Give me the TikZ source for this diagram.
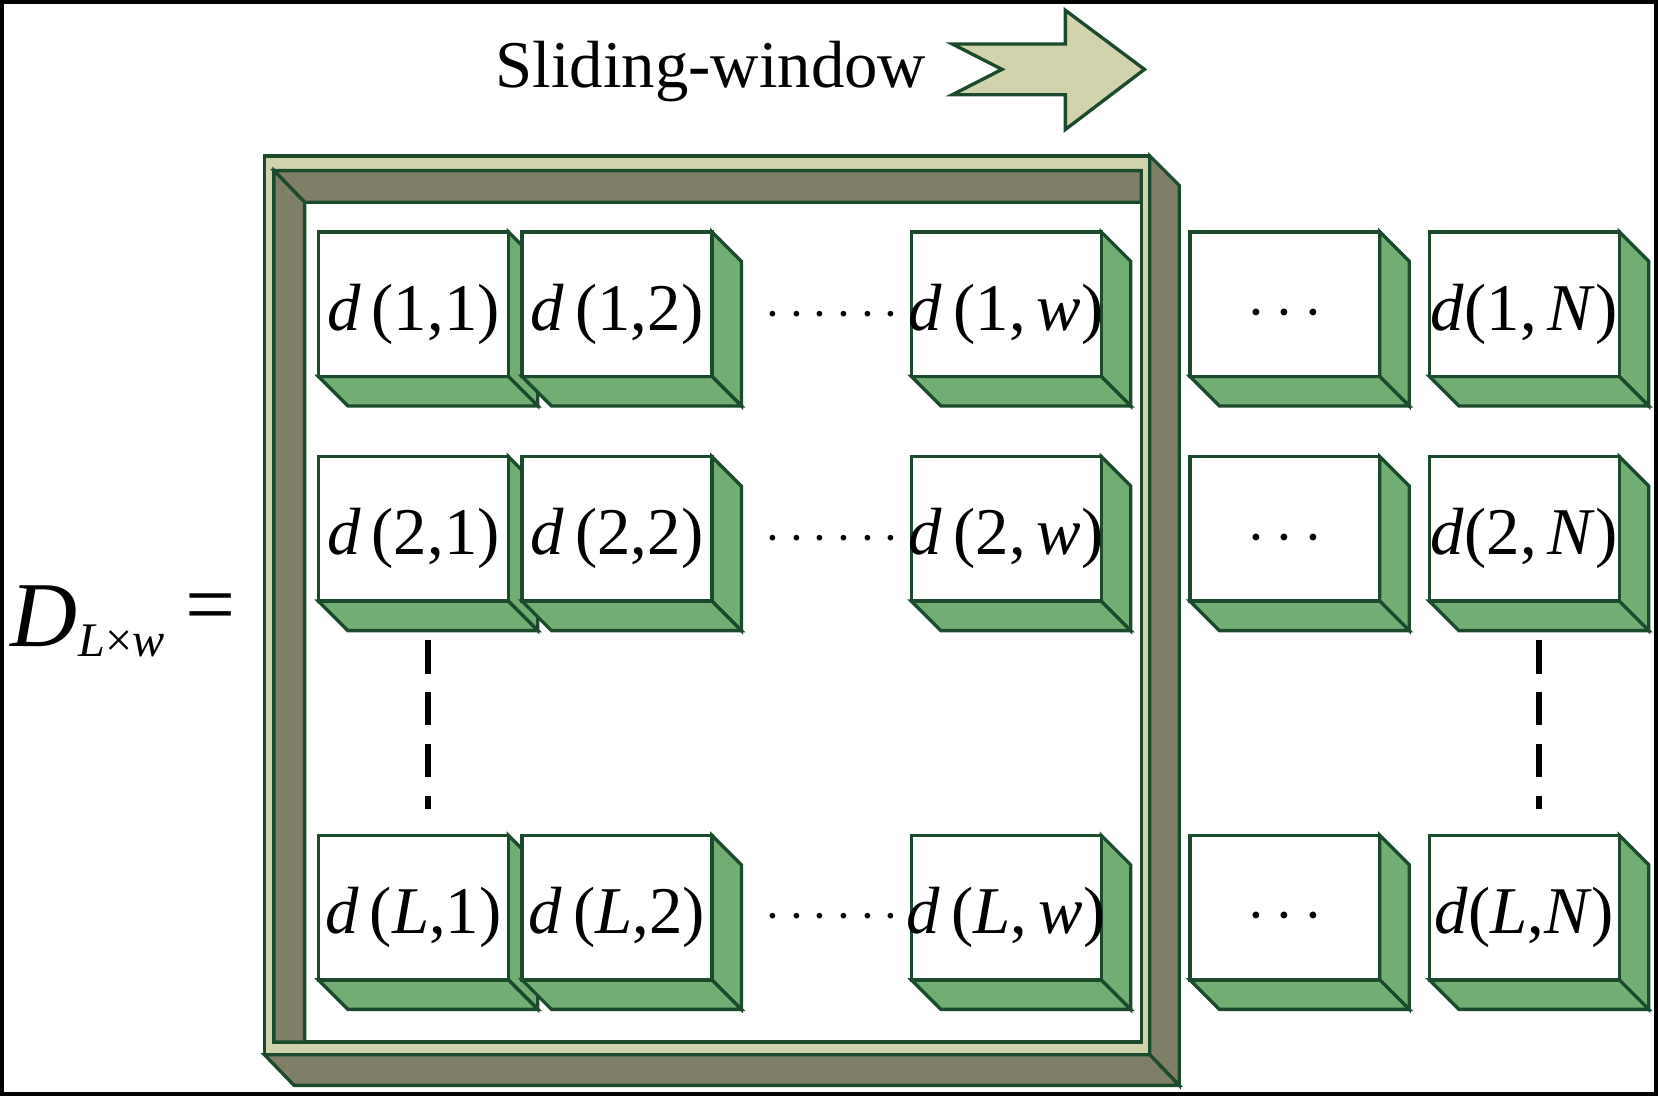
\documentclass[tikz,border=0pt]{standalone}
\usepackage{fontspec}
\setmainfont{Liberation Serif}
\begin{document}
\begin{tikzpicture}[x=0.01cm,y=-0.01cm]
\definecolor{edge}{HTML}{1C4A2C}
\definecolor{cgreen}{HTML}{72AD74}
\definecolor{dark}{HTML}{7F7F67}
\definecolor{light}{HTML}{D1D3AC}
\tikzset{ln/.style={draw=edge,line width=0.9pt,line join=miter},
  lbl/.style={font=\fontsize{18}{20}\selectfont,inner sep=0pt},
  dots/.style={font=\fontsize{15}{20}\selectfont,inner sep=0pt}}
\draw[black,line width=1pt] (0,0) rectangle (1568,1035);
\useasboundingbox (0,0) rectangle (1568,1035);
% arrow
\draw[ln,fill=light] (901,40) -- (1008,40) -- (1008,8) -- (1083,64) -- (1008,121) -- (1008,88) -- (901,88) -- (948,64) -- cycle;
\node[font=\fontsize{18}{22}\selectfont,inner sep=0pt] (title) at (672,66) {Sliding-window};
% frame
\draw[ln,fill=dark] (1088,146) -- (1116,174) -- (1116,1027) -- (1088,998) -- cycle;
\draw[ln,fill=dark] (249,998) -- (1088,998) -- (1116,1027) -- (277,1027) -- cycle;
\draw[ln,fill=light] (249,146) rectangle (1088,998);
\draw[ln,fill=white] (258,160) rectangle (1080,986);
\draw[ln,fill=dark] (258,160) -- (1080,160) -- (1080,190) -- (287,190) -- cycle;
\draw[ln,fill=dark] (258,160) -- (287,190) -- (287,986) -- (258,986) -- cycle;
% cubes
\newcommand{\cube}[4]{%
  \draw[ln,fill=cgreen] (#1+180,#2) -- (#1+208,#2+28) -- (#1+208,#2+165) -- (#1+180,#2+137) -- cycle;
  \draw[ln,fill=cgreen] (#1,#2+137) -- (#1+180,#2+137) -- (#1+208,#2+165) -- (#1+28,#2+165) -- cycle;
  \draw[ln,fill=white] (#1,#2) rectangle (#1+180,#2+137);
  \node[lbl] (#3) at (#1+90,#2+78) {#4};}
\cube{300}{218}{c11}{\textit{d}\,(1,1)}
\cube{493}{218}{c12}{\textit{d}\,(1,2)}
\cube{862}{218}{c1w}{\textit{d}\,(1,\,\textit{w})}
\cube{1126}{218}{c1x}{$\cdots$}
\cube{1353}{218}{c1N}{\textit{d}(1,\,\textit{N})}
\cube{300}{431}{c21}{\textit{d}\,(2,1)}
\cube{493}{431}{c22}{\textit{d}\,(2,2)}
\cube{862}{431}{c2w}{\textit{d}\,(2,\,\textit{w})}
\cube{1126}{431}{c2x}{$\cdots$}
\cube{1353}{431}{c2N}{\textit{d}(2,\,\textit{N})}
\cube{300}{790}{cL1}{\textit{d}\,(\textit{L},1)}
\cube{493}{790}{cL2}{\textit{d}\,(\textit{L},2)}
\cube{862}{790}{cLw}{\textit{d}\,(\textit{L},\,\textit{w})}
\cube{1126}{790}{cLx}{$\cdots$}
\cube{1353}{790}{cLN}{\textit{d}(\textit{L},\textit{N})}
% dots
\node[dots] (d1) at (787,297) {$\cdots\cdots$};
\node[dots] (d2) at (787,510) {$\cdots\cdots$};
\node[dots] (d3) at (787,868) {$\cdots\cdots$};
\coordinate (v1a) at (404,605); \coordinate (v1b) at (404,765);
\coordinate (v2a) at (1457,605); \coordinate (v2b) at (1457,765);
\draw[black,line width=1.6pt,dash pattern=on 9pt off 5pt] (v1a) -- (v1b);
\draw[black,line width=1.6pt,dash pattern=on 9pt off 5pt] (v2a) -- (v2b);
\node[inner sep=0pt,anchor=east,font=\fontsize{25}{28}\selectfont] (D) at (72,582) {\textit{D}};
\node[inner sep=0pt,anchor=west,font=\fontsize{13}{16}\selectfont] (Dsub) at (72,606) {\textit{L}×\textit{w}};
\node[inner sep=0pt,font=\fontsize{24}{28}\selectfont] (eq) at (198,580) {=};
\end{tikzpicture}
\end{document}
